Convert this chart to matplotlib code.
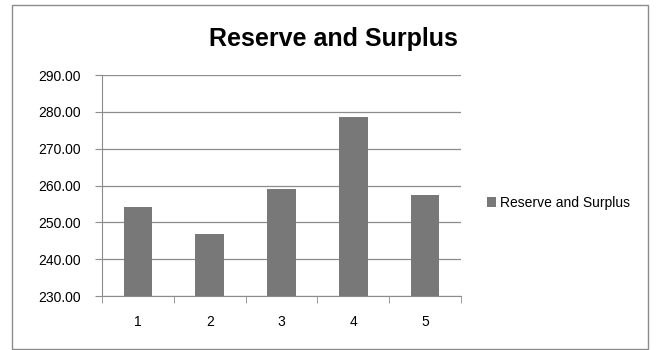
import matplotlib
matplotlib.use('Agg')
import matplotlib.pyplot as plt
from matplotlib.patches import Rectangle

plt.rcParams['font.family'] = ['Liberation Sans', 'DejaVu Sans']

# Data
categories = ['1', '2', '3', '4', '5']
values = [254.1, 246.7, 259.1, 278.6, 257.5]
series_name = 'Reserve and Surplus'
y_ticks = [230, 240, 250, 260, 270, 280, 290]

W, H = 658, 350
fig = plt.figure(figsize=(W / 100, H / 100), dpi=100)

# outer chart border
fig.patches.append(Rectangle((12 / W, 1.5 / H), 636 / W, 344 / H,
                             transform=fig.transFigure, fill=False,
                             edgecolor='#8c8c8c', linewidth=1.0))

ax = fig.add_axes([102 / W, 1 - 296 / H, 359 / W, 221 / H])
x = list(range(len(categories)))
ax.bar(x, values, width=0.4, color='#787878', zorder=3, label=series_name)

ax.set_xlim(-0.5, len(categories) - 0.5)
ax.set_ylim(230, 290)
ax.set_yticks(y_ticks)
ax.set_yticklabels([f'{v:.2f}' for v in y_ticks], fontsize=10)
ax.set_xticks(x)
ax.set_xticklabels(categories, fontsize=10)
ax.tick_params(axis='x', length=0, pad=14)
ax.set_xticks([i - 0.5 for i in range(len(categories) + 1)], minor=True)
ax.tick_params(axis='x', which='minor', length=5, color='#8c8c8c', direction='out')
ax.tick_params(axis='y', length=5, color='#8c8c8c', direction='out', pad=10)
ax.grid(True, axis='y', color='#8c8c8c', linewidth=0.9, zorder=0)

for side in ['top', 'right']:
    ax.spines[side].set_visible(False)
ax.spines['left'].set_color('#8c8c8c')
ax.spines['bottom'].set_color('#8c8c8c')

fig.text(333 / W, 1 - 39 / H, 'Reserve and Surplus', ha='center', va='center',
         fontsize=18, fontweight='bold')

ax.legend(loc='center left', bbox_to_anchor=(474 / W, 1 - 203 / H),
          bbox_transform=fig.transFigure, frameon=False, fontsize=10,
          handlelength=0.7, handleheight=0.7, handletextpad=0.3)

fig.savefig('out.png', dpi=100)
